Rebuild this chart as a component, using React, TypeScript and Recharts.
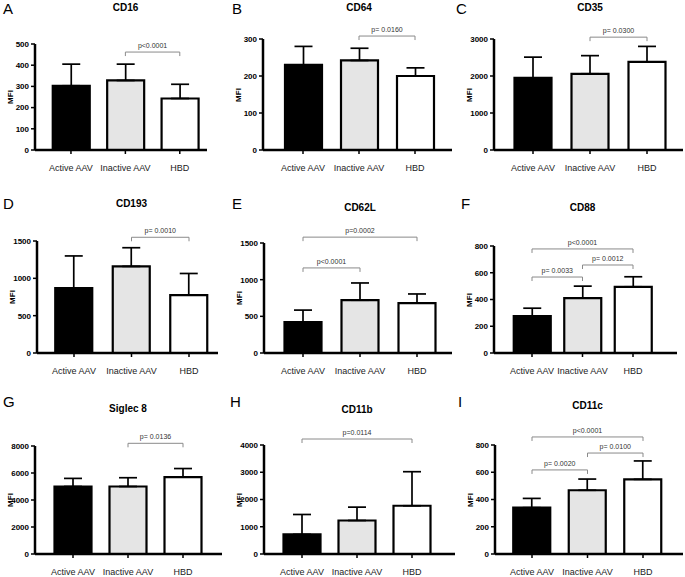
import { BarChart, Bar, XAxis, YAxis, ErrorBar, Cell, ReferenceLine } from "recharts";

const groups = ["Active AAV", "Inactive AAV", "HBD"];
const fills = ["#000000", "#e5e5e5", "#ffffff"];

// bar heights (mean MFI) and top of each error whisker
const cd16Mean = [303, 328, 243];
const cd16Top = [405, 405, 310];
const cd16Ticks = [0, 100, 200, 300, 400, 500];

const cd64Mean = [230, 242, 200];
const cd64Top = [280, 275, 222];
const cd64Ticks = [0, 100, 200, 300];

const cd35Mean = [1950, 2060, 2380];
const cd35Top = [2510, 2550, 2800];
const cd35Ticks = [0, 1000, 2000, 3000];

const cd193Mean = [870, 1160, 775];
const cd193Top = [1300, 1410, 1065];
const cd193Ticks = [0, 500, 1000, 1500];

const cd62lMean = [420, 720, 680];
const cd62lTop = [585, 955, 805];
const cd62lTicks = [0, 500, 1000, 1500];

const cd88Mean = [275, 410, 495];
const cd88Top = [335, 500, 570];
const cd88Ticks = [0, 200, 400, 600, 800];

const siglecMean = [5000, 5000, 5700];
const siglecTop = [5600, 5650, 6330];
const siglecTicks = [0, 2000, 4000, 6000, 8000];

const cd11bMean = [720, 1230, 1770];
const cd11bTop = [1450, 1720, 3020];
const cd11bTicks = [0, 1000, 2000, 3000, 4000];

const cd11cMean = [340, 468, 548];
const cd11cTop = [408, 550, 683];
const cd11cTicks = [0, 200, 400, 600, 800];

// significance brackets: group indexes, height (MFI), text
const cd16Sig = [{ a: 1, b: 2, y: 462, text: "p<0.0001" }];
const cd64Sig = [{ a: 1, b: 2, y: 308, text: "p= 0.0160" }];
const cd35Sig = [{ a: 1, b: 2, y: 3050, text: "p= 0.0300" }];
const cd193Sig = [{ a: 1, b: 2, y: 1550, text: "p= 0.0010" }];
const cd62lSig = [
  { a: 0, b: 1, y: 1160, text: "p<0.0001" },
  { a: 0, b: 2, y: 1580, text: "p=0.0002" },
];
const cd88Sig = [
  { a: 0, b: 1, y: 568, text: "p= 0.0033" },
  { a: 1, b: 2, y: 658, text: "p= 0.0012" },
  { a: 0, b: 2, y: 778, text: "p<0.0001" },
];
const siglecSig = [{ a: 1, b: 2, y: 8200, text: "p= 0.0136" }];
const cd11bSig = [{ a: 0, b: 2, y: 4220, text: "p=0.0114" }];
const cd11cSig = [
  { a: 0, b: 1, y: 617, text: "p= 0.0020" },
  { a: 1, b: 2, y: 741, text: "p= 0.0100" },
  { a: 0, b: 2, y: 859, text: "p<0.0001" },
];

const panels = [
  { letter: "A", title: "CD16", mean: cd16Mean, top: cd16Top, ticks: cd16Ticks, sig: cd16Sig },
  { letter: "B", title: "CD64", mean: cd64Mean, top: cd64Top, ticks: cd64Ticks, sig: cd64Sig },
  { letter: "C", title: "CD35", mean: cd35Mean, top: cd35Top, ticks: cd35Ticks, sig: cd35Sig },
  { letter: "D", title: "CD193", mean: cd193Mean, top: cd193Top, ticks: cd193Ticks, sig: cd193Sig },
  { letter: "E", title: "CD62L", mean: cd62lMean, top: cd62lTop, ticks: cd62lTicks, sig: cd62lSig },
  { letter: "F", title: "CD88", mean: cd88Mean, top: cd88Top, ticks: cd88Ticks, sig: cd88Sig },
  { letter: "G", title: "Siglec 8", mean: siglecMean, top: siglecTop, ticks: siglecTicks, sig: siglecSig },
  { letter: "H", title: "CD11b", mean: cd11bMean, top: cd11bTop, ticks: cd11bTicks, sig: cd11bSig },
  { letter: "I", title: "CD11c", mean: cd11cMean, top: cd11cTop, ticks: cd11cTicks, sig: cd11cSig },
];

const colLeft = [0, 228, 457];
const rowTop = [0, 192, 385];
const rowH = [192, 193, 192];

// page positions of each panel: y axis x, first bar centre, spacing, axis end, top tick y, zero y
const layouts = [
  { col: 0, row: 0, x0: 35, c1: 71, s: 54.5, x1: 207, yTop: 44, y0: 150, titleY: 7, lx: 3, ly: 8 },
  { col: 1, row: 0, x0: 263, c1: 303, s: 56, x1: 452, yTop: 39, y0: 150, titleY: 7, lx: 232, ly: 8 },
  { col: 2, row: 0, x0: 494, c1: 533, s: 57, x1: 683, yTop: 39, y0: 150, titleY: 7, lx: 456, ly: 8 },
  { col: 0, row: 1, x0: 37, c1: 74, s: 57.5, x1: 218, yTop: 241, y0: 353, titleY: 203, lx: 3, ly: 203 },
  { col: 1, row: 1, x0: 264, c1: 303, s: 57, x1: 452, yTop: 243, y0: 353, titleY: 207, lx: 232, ly: 203 },
  { col: 2, row: 1, x0: 494, c1: 532, s: 50.5, x1: 677, yTop: 246, y0: 353, titleY: 207, lx: 461, ly: 203 },
  { col: 0, row: 2, x0: 35, c1: 73, s: 55, x1: 222, yTop: 446, y0: 554, titleY: 408, lx: 3, ly: 401 },
  { col: 1, row: 2, x0: 264, c1: 302, s: 55, x1: 455, yTop: 445, y0: 554, titleY: 409, lx: 230, ly: 401 },
  { col: 2, row: 2, x0: 495, c1: 532, s: 55.5, x1: 683, yTop: 445, y0: 554, titleY: 405, lx: 458, ly: 401 },
];

const bracketColor = "#8a8a8a";

function Panel({ cfg, lay }: { cfg: any; lay: any }) {
  const left = colLeft[lay.col];
  const top = rowTop[lay.row];
  const h = rowH[lay.row];
  const w = 228;
  const pl = lay.c1 - lay.x0 - lay.s / 2;
  const pr = Math.max(0, lay.x1 - lay.x0 - pl - 3 * lay.s);
  const yMax = cfg.ticks[cfg.ticks.length - 1];
  const drop = (4 * yMax) / (lay.y0 - lay.yTop);
  const data = groups.map((g, i) => ({
    group: g,
    mfi: cfg.mean[i],
    err: [0, cfg.top[i] - cfg.mean[i]],
  }));

  return (
    <>
      <div style={{ position: "absolute", left, top }}>
        <BarChart
          width={w}
          height={h}
          data={data}
          barSize={37}
          margin={{
            top: lay.yTop - top,
            right: left + w - lay.x1,
            bottom: top + h - lay.y0 - 30,
            left: lay.x0 - left - 30,
          }}
        >
          <XAxis
            dataKey="group"
            interval={0}
            height={30}
            padding={{ left: pl, right: pr }}
            stroke="#000"
            strokeWidth={2.5}
            tickSize={4}
            tickMargin={11}
            axisLine={{ stroke: "#000", strokeWidth: 2.5 }}
            tickLine={{ stroke: "#000", strokeWidth: 1.5 }}
            tick={{ fontSize: 9, fill: "#222" }}
          />
          <YAxis
            width={30}
            domain={[0, yMax]}
            ticks={cfg.ticks}
            interval={0}
            stroke="#000"
            strokeWidth={2.5}
            tickSize={4}
            tickMargin={2}
            axisLine={{ stroke: "#000", strokeWidth: 2.5 }}
            tickLine={{ stroke: "#000", strokeWidth: 1.5 }}
            tick={{ fontSize: 8, fontWeight: "bold", fill: "#000" }}
          />
          <Bar dataKey="mfi" stroke="#000" strokeWidth={2.2} isAnimationActive={false}>
            {data.map((d, i) => (
              <Cell key={d.group} fill={fills[i]} />
            ))}
            <ErrorBar dataKey="err" direction="y" width={9} stroke="#000" strokeWidth={1.7} />
          </Bar>
          {cfg.sig.map((b: any, k: number) => [
            <ReferenceLine
              key={"h" + k}
              ifOverflow="visible"
              stroke={bracketColor}
              strokeWidth={1}
              segment={[
                { x: groups[b.a], y: b.y },
                { x: groups[b.b], y: b.y },
              ]}
              label={{ value: b.text, position: "top", offset: 4, fontSize: 7, fill: "#333" }}
            />,
            <ReferenceLine
              key={"l" + k}
              ifOverflow="visible"
              stroke={bracketColor}
              strokeWidth={1}
              segment={[
                { x: groups[b.a], y: b.y },
                { x: groups[b.a], y: b.y - drop },
              ]}
            />,
            <ReferenceLine
              key={"r" + k}
              ifOverflow="visible"
              stroke={bracketColor}
              strokeWidth={1}
              segment={[
                { x: groups[b.b], y: b.y },
                { x: groups[b.b], y: b.y - drop },
              ]}
            />,
          ])}
        </BarChart>
      </div>
      <div
        style={{
          position: "absolute",
          left: lay.c1 + lay.s,
          top: lay.titleY,
          transform: "translate(-50%, -50%)",
          fontSize: 10,
          fontWeight: "bold",
          whiteSpace: "nowrap",
        }}
      >
        {cfg.title}
      </div>
      <div
        style={{
          position: "absolute",
          left: lay.lx,
          top: lay.ly,
          transform: "translateY(-50%)",
          fontSize: 15,
          lineHeight: "15px",
        }}
      >
        {cfg.letter}
      </div>
      <div
        style={{
          position: "absolute",
          left: lay.x0 - 25,
          top: (lay.yTop + lay.y0) / 2,
          transform: "translate(-50%, -50%) rotate(-90deg)",
          fontSize: 8,
          fontWeight: "bold",
        }}
      >
        MFI
      </div>
    </>
  );
}

export default function App() {
  return (
    <div
      style={{
        position: "absolute",
        left: 0,
        top: 0,
        width: 685,
        height: 577,
        background: "#fff",
        fontFamily: "'Liberation Sans', Arial, sans-serif",
        overflow: "hidden",
      }}
    >
      {panels.map((p, i) => (
        <Panel key={p.title} cfg={p} lay={layouts[i]} />
      ))}
    </div>
  );
}
